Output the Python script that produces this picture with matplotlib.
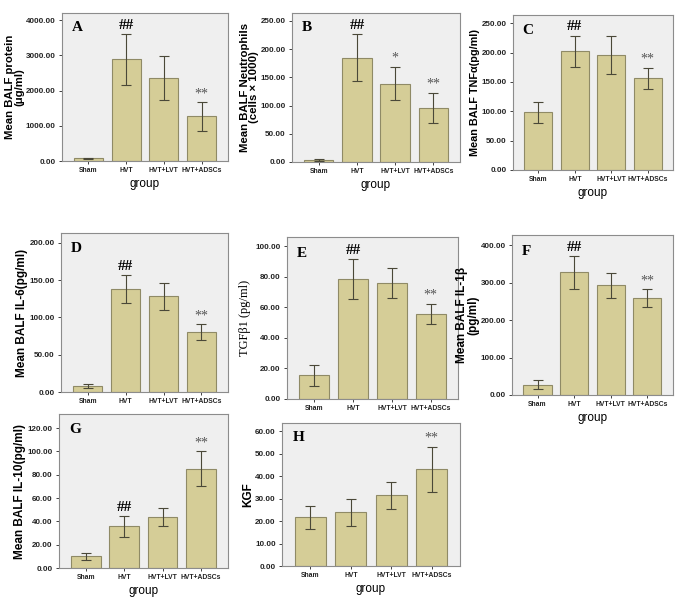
import matplotlib.pyplot as plt
import numpy as np

groups = ["Sham", "HVT", "HVT+LVT", "HVT+ADSCs"]

# means and error bar half-lengths
protein = [80, 2885, 2355, 1265]
protein_err = [15, 730, 615, 400]
neutro = [4, 185, 139, 96]
neutro_err = [1.5, 42, 30, 27]
tnfa = [98, 202, 196, 156]
tnfa_err = [18, 27, 32, 18]
il6 = [8, 138, 128, 80]
il6_err = [2.5, 18.5, 17.5, 10.5]
tgfb1 = [15.4, 78.4, 75.8, 55.6]
tgfb1_err = [6.8, 13, 9.8, 6.5]
il1b = [28, 328, 293, 258]
il1b_err = [11.5, 44, 33, 24]
il10 = [10, 35.7, 43.7, 85.1]
il10_err = [2.9, 8.8, 8, 14.8]
kgf = [21.6, 24, 31.4, 43]
kgf_err = [5.3, 6, 6, 9.9]

sig_a = ["", "##", "", "**"]
sig_b = ["", "##", "*", "**"]
sig_h = ["", "", "", "**"]

BAR = "#d5cd97"
EDGE = "#8f8a66"
BG = "#efefef"
SANS = ["Liberation Sans Narrow", "Liberation Sans", "DejaVu Sans"]
SERIF = ["Liberation Serif", "DejaVu Serif"]

fig = plt.figure(figsize=(6.85, 6.06), dpi=100)


def panel(rect, vals, errs, sig, letter, ylabel, ymax, step,
          xlabel=True, ylab_serif=False, ylab_size=7.8):
    ax = fig.add_axes(rect)
    ax.set_facecolor(BG)
    x = np.arange(len(groups))
    ax.bar(x, vals, width=0.77, color=BAR, edgecolor=EDGE, linewidth=0.8,
           zorder=2)
    ax.errorbar(x, vals, yerr=errs, fmt="none", ecolor="#4a4838",
                elinewidth=0.8, capsize=3.8, capthick=0.8, zorder=3)
    for xi, v, e, s in zip(x, vals, errs, sig):
        if s:
            hashes = s.startswith("#")
            ax.annotate(s, (xi, v + e), xytext=(0, 1.5),
                        textcoords="offset points", ha="center", va="bottom",
                        fontsize=11 if hashes else 10, family=SERIF,
                        color="black" if hashes else "#555555",
                        fontweight="bold" if hashes else "normal")
    ax.text(0.06, 0.9, letter, transform=ax.transAxes, va="center",
            ha="left", fontsize=11, fontweight="bold", family=SERIF)
    ax.set_xlim(-0.7, 3.7)
    ax.set_ylim(0, ymax)
    ticks = np.arange(0, ymax, step)
    ax.set_yticks(ticks)
    ax.set_yticklabels(["%.2f" % t for t in ticks], fontsize=5.8,
                       fontweight="bold", family=SANS)
    ax.set_xticks(x)
    ax.set_xticklabels(groups, fontsize=4.9, fontweight="bold", family=SANS)
    ax.tick_params(length=2.5, width=0.6, pad=2, colors="#222222")
    for sp in ax.spines.values():
        sp.set_color("#8c8c8c")
        sp.set_linewidth(0.8)
    if ylab_serif:
        ax.set_ylabel(ylabel, fontsize=9, family=SERIF, labelpad=3)
    else:
        ax.set_ylabel(ylabel, fontsize=ylab_size, fontweight="bold",
                      family=["Liberation Sans", "DejaVu Sans"], labelpad=1,
                      linespacing=0.95)
    if xlabel:
        ax.set_xlabel("group", fontsize=8.5,
                      family=["Liberation Sans", "DejaVu Sans"], labelpad=3)
    return ax


panel([0.0905, 0.7343, 0.2423, 0.2442], protein, protein_err, sig_a, "A",
      "Mean BALF protein\n(\u03bcg/ml)", 4200, 1000, ylab_size=8.2)
panel([0.4263, 0.7327, 0.2453, 0.2459], neutro, neutro_err, sig_b, "B",
      "Mean BALF Neutrophils\n(cells \u00d7 1000)", 264, 50, ylab_size=8.2)
panel([0.7489, 0.7195, 0.2336, 0.2558], tnfa, tnfa_err, sig_a, "C",
      "Mean BALF TNF\u03b1(pg/ml)", 264, 50)
panel([0.0891, 0.3531, 0.2438, 0.2624], il6, il6_err, sig_a, "D",
      "Mean BALF IL-6(pg/ml)", 213, 50, xlabel=False, ylab_size=8.5)
panel([0.4190, 0.3416, 0.2496, 0.2673], tgfb1, tgfb1_err, sig_a, "E",
      "TGF\u03b21 (pg/ml)", 106, 20, xlabel=False, ylab_serif=True)
panel([0.7474, 0.3482, 0.2350, 0.2640], il1b, il1b_err, sig_a, "F",
      "Mean BALF IL-1\u03b2\n(pg/ml)", 427, 100, ylab_size=8.5)
panel([0.0861, 0.0627, 0.2467, 0.2541], il10, il10_err, sig_a, "G",
      "Mean BALF IL-10(pg/ml)", 132, 20, ylab_size=8.5)
panel([0.4117, 0.0660, 0.2599, 0.2360], kgf, kgf_err, sig_h, "H",
      "KGF", 63.6, 10, ylab_size=8.5)

fig.savefig("out.png", dpi=100)
